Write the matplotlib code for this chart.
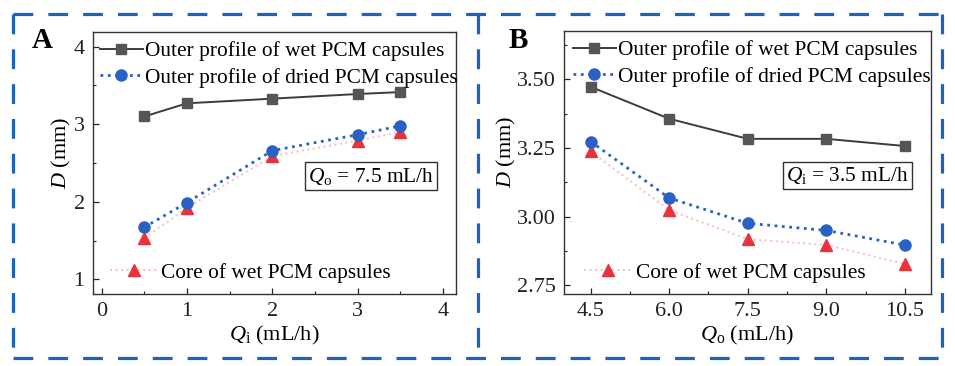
import matplotlib
matplotlib.use("Agg")
import matplotlib.pyplot as plt
from matplotlib.lines import Line2D

plt.rcParams['font.family'] = ['Liberation Serif', 'DejaVu Serif']
plt.rcParams['mathtext.fontset'] = 'custom'
plt.rcParams['mathtext.rm'] = 'Liberation Serif'
plt.rcParams['mathtext.it'] = 'Liberation Serif:italic'

# Panel A data
qi = [0.5, 1, 2, 3, 3.5]
a_wet = [3.10, 3.27, 3.33, 3.39, 3.415]
a_dried = [1.67, 1.99, 2.66, 2.865, 2.98]
a_core = [1.53, 1.92, 2.59, 2.79, 2.90]

# Panel B data
qo = [4.5, 6.0, 7.5, 9.0, 10.5]
b_wet = [3.472, 3.356, 3.283, 3.283, 3.257]
b_dried = [3.273, 3.068, 2.976, 2.950, 2.897]
b_core = [3.237, 3.024, 2.918, 2.897, 2.828]

labels = ["Outer profile of wet PCM capsules",
          "Outer profile of dried PCM capsules",
          "Core of wet PCM capsules"]

W, H = 955, 366
fig = plt.figure(figsize=(W/100, H/100), dpi=100)

def px_axes(l, t, r, b):
    return fig.add_axes([l/W, 1-b/H, (r-l)/W, (b-t)/H])

axA = px_axes(93, 32, 456, 294)
axB = px_axes(564, 31, 931, 294)

C_WET = '#3c3c3c'
C_WETM = '#555555'
C_DRY = '#2a62c4'
C_CORE = '#f5c4c4'
C_COREM = '#e8333c'
FS = 16
LFS = 15.4

def draw(ax, x, wet, dried, core):
    ax.plot(x, wet, '-', color=C_WET, lw=1.4, marker='s', ms=7,
            mfc=C_WETM, mec=C_WETM, zorder=3)
    ax.plot(x, dried, ':', color=C_DRY, lw=2.0, marker='o', ms=8,
            mfc=C_DRY, mec=C_DRY, zorder=4)
    ax.plot(x, core, ':', color=C_CORE, lw=1.5, marker='^', ms=8,
            mfc=C_COREM, mec=C_COREM, zorder=2)
    for s in ax.spines.values():
        s.set_color('#333333')
        s.set_linewidth(1.0)
    ax.tick_params(which='both', direction='in', top=False, right=False,
                   labelsize=FS, colors='#222222')
    ax.tick_params(which='major', length=4, width=0.9, pad=6)
    ax.tick_params(which='minor', length=2.5, width=0.8)

def legends(ax, x1, y1, x2, y2):
    h1 = Line2D([], [], color=C_WET, lw=1.4, marker='s', ms=7,
                mfc=C_WETM, mec=C_WETM)
    h2 = Line2D([], [], color=C_DRY, lw=2.0, ls=':', marker='o', ms=8,
                mfc=C_DRY, mec=C_DRY)
    h3 = Line2D([], [], color=C_CORE, lw=1.5, ls=':', marker='^', ms=8,
                mfc=C_COREM, mec=C_COREM)
    lg = ax.legend([h1, h2], labels[:2], loc='upper left',
                   bbox_to_anchor=(x1, y1), frameon=False, fontsize=LFS,
                   handlelength=2.0, handletextpad=0.1, labelspacing=0.3,
                   borderpad=0, borderaxespad=0)
    ax.add_artist(lg)
    ax.legend([h3], labels[2:], loc='lower left', bbox_to_anchor=(x2, y2),
              frameon=False, fontsize=LFS, handlelength=2.2,
              handletextpad=0.2, borderpad=0, borderaxespad=0)

# Panel A
draw(axA, qi, a_wet, a_dried, a_core)
axA.set_xlim(-0.1, 4.15)
axA.set_ylim(0.81, 4.19)
axA.set_xticks([0, 1, 2, 3, 4])
axA.set_xticks([0.5, 1.5, 2.5, 3.5], minor=True)
axA.set_yticks([1, 2, 3, 4])
axA.set_yticks([1.5, 2.5, 3.5], minor=True)
axA.set_xlabel(r'$Q_\mathrm{i}$ (mL/h)', fontsize=FS, labelpad=2)
axA.set_ylabel(r'$D$ (mm)', fontsize=FS)
axA.yaxis.set_label_coords(-0.055, 0.54)
legends(axA, 0.019, 0.965, 0.047, 0.043)
axA.text(0.94, 0.45, r'$Q_\mathrm{o}$ = 7.5 mL/h', transform=axA.transAxes,
         fontsize=LFS, ha='right', va='center',
         bbox=dict(boxstyle='square,pad=0.15', fc='white', ec='#333333', lw=1.0))

# Panel B
draw(axB, qo, b_wet, b_dried, b_core)
axB.set_xlim(3.99, 11.0)
axB.set_ylim(2.719, 3.675)
axB.set_xticks([4.5, 6.0, 7.5, 9.0, 10.5])
axB.set_xticklabels(['4.5', '6.0', '7.5', '9.0', '10.5'])
axB.set_xticks([5.25, 6.75, 8.25, 9.75], minor=True)
axB.set_yticks([2.75, 3.00, 3.25, 3.50])
axB.set_yticklabels(['2.75', '3.00', '3.25', '3.50'])
axB.set_yticks([2.875, 3.125, 3.375, 3.625], minor=True)
axB.set_xlabel(r'$Q_\mathrm{o}$ (mL/h)', fontsize=FS, labelpad=2)
axB.set_ylabel(r'$D$ (mm)', fontsize=FS)
axB.yaxis.set_label_coords(-0.125, 0.54)
legends(axB, 0.024, 0.965, 0.055, 0.043)
axB.text(0.94, 0.45, r'$Q_\mathrm{i}$ = 3.5 mL/h', transform=axB.transAxes,
         fontsize=LFS, ha='right', va='center',
         bbox=dict(boxstyle='square,pad=0.15', fc='white', ec='#333333', lw=1.0))

# Panel letters
fig.text(42/W, 1-41/H, 'A', fontsize=21, fontweight='bold', ha='center', va='center')
fig.text(518/W, 1-41/H, 'B', fontsize=21, fontweight='bold', ha='center', va='center')

# Dashed blue frame
BC = '#1a64bd'
frame_kw = dict(color=BC, lw=2.3, ls=(0, (6.2, 4.7)), transform=fig.transFigure)
L, R, T, Bt, M = 13, 942, 14, 358, 478
for (x0, y0, x1, y1) in [(L, T, R, T), (L, Bt, R, Bt), (L, T, L, Bt),
                         (R, T, R, Bt), (M, T, M, Bt)]:
    fig.add_artist(Line2D([x0/W, x1/W], [1-y0/H, 1-y1/H], **frame_kw))

fig.savefig('out.png', dpi=100)
